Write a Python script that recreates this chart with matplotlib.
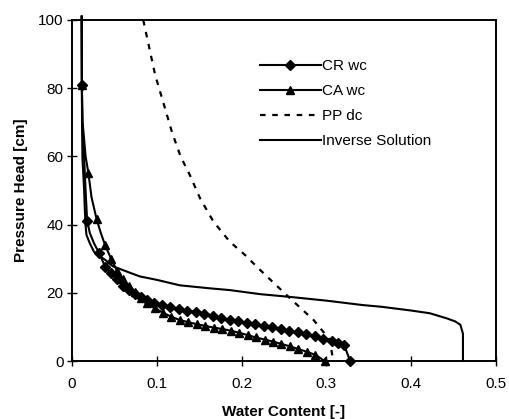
"""Water retention curves: pressure head vs water content."""
import matplotlib.pyplot as plt

plt.rcParams['font.family'] = ['Liberation Sans', 'DejaVu Sans']

# CR wc (diamonds)
cr_theta = [0.0114, 0.0116, 0.0120, 0.0143, 0.0160, 0.0178, 0.021, 0.026,
            0.032, 0.039, 0.046, 0.053, 0.060, 0.067,
            0.074, 0.081, 0.089, 0.097, 0.106, 0.116, 0.126, 0.136, 0.146,
            0.156, 0.166, 0.176, 0.186, 0.196, 0.206, 0.216, 0.226, 0.236,
            0.246, 0.256, 0.266, 0.276, 0.286, 0.296, 0.306, 0.314, 0.321,
            0.328]
cr_head = [101.0, 81.0, 70.0, 59.4, 50.0, 41.2, 37.5, 34.5,
           31.6, 27.7, 25.8, 24.0, 22.0, 20.8,
           19.7, 18.8, 17.8, 17.0, 16.3, 15.8, 15.2, 14.8, 14.3,
           13.9, 13.3, 12.6, 12.0, 11.6, 11.2, 10.8, 10.4, 9.9,
           9.4, 8.9, 8.4, 7.8, 7.2, 6.5, 5.8, 5.2, 4.6,
           0.0]
cr_no_marker = [0, 2, 3, 4, 6, 7]

# CA wc (triangles)
ca_theta = [0.0114, 0.0116, 0.0125, 0.0160, 0.0193, 0.023, 0.0289, 0.034,
            0.039, 0.046, 0.053, 0.060, 0.067,
            0.074, 0.081, 0.089, 0.098, 0.107, 0.117, 0.127, 0.137, 0.147,
            0.157, 0.167, 0.177, 0.187, 0.197, 0.207, 0.217, 0.227, 0.237,
            0.247, 0.257, 0.267, 0.277, 0.287, 0.298]
ca_head = [101.0, 81.0, 70.0, 60.0, 55.1, 48.0, 41.7, 37.5,
           34.0, 30.0, 26.5, 24.0, 22.0,
           20.3, 18.6, 16.9, 15.4, 14.2, 13.0, 12.0, 11.4, 10.8,
           10.3, 9.8, 9.4, 8.9, 8.3, 7.6, 6.9, 6.3, 5.7,
           5.0, 4.3, 3.5, 2.7, 1.8, 0.0]
ca_no_marker = [0, 2, 3, 5, 7]

# PP dc (dashed)
pp_theta = [0.084, 0.098, 0.108, 0.118, 0.128, 0.139, 0.151, 0.1667, 0.186,
            0.204, 0.2197, 0.240, 0.257, 0.285, 0.304, 0.307]
pp_head = [100.0, 83.9, 75.5, 67.0, 60.0, 54.5, 47.7, 40.9, 35.0,
           31.1, 27.2, 22.4, 18.4, 12.0, 6.2, 1.5]

# Inverse solution
inv_theta = [0.0114, 0.0118, 0.0123, 0.0143, 0.015, 0.0158, 0.017, 0.021,
             0.026, 0.033, 0.040, 0.048, 0.067, 0.080, 0.100, 0.127, 0.163,
             0.186, 0.222, 0.257, 0.300, 0.343, 0.365, 0.400, 0.422, 0.442,
             0.452, 0.458, 0.461, 0.461]
inv_head = [101.0, 70.0, 59.4, 50.0, 45.0, 40.3, 37.0, 34.5,
            32.0, 30.7, 29.5, 27.8, 26.0, 24.8, 23.8, 22.2, 21.3,
            20.8, 19.6, 18.8, 17.7, 16.4, 15.9, 14.8, 14.0, 12.5,
            11.6, 10.6, 8.0, 0.0]

cr_marks = [i for i in range(len(cr_theta)) if i not in cr_no_marker]
ca_marks = [i for i in range(len(ca_theta)) if i not in ca_no_marker]

fig = plt.figure(figsize=(5.09, 4.19), dpi=100)
ax = fig.add_axes([0.1415, 0.1384, 0.833, 0.8139])

ax.plot(cr_theta, cr_head, color='black', lw=1.5, marker='D', ms=5.2,
        markevery=cr_marks, label='CR wc', clip_on=False)
ax.plot(ca_theta, ca_head, color='black', lw=1.5, marker='^', ms=6,
        markevery=ca_marks, label='CA wc', clip_on=False)
ax.plot(pp_theta, pp_head, color='black', lw=1.6, dashes=(2.5, 3),
        label='PP dc')
ax.plot(inv_theta, inv_head, color='black', lw=1.5, label='Inverse Solution',
        clip_on=False)

ax.set_xlim(0, 0.5)
ax.set_ylim(0, 100)
ax.set_xticks([0, 0.1, 0.2, 0.3, 0.4, 0.5])
ax.set_xticklabels(['0', '0.1', '0.2', '0.3', '0.4', '0.5'])
ax.set_yticks([0, 20, 40, 60, 80, 100])
ax.tick_params(direction='inout', length=7, width=1, labelsize=11)
ax.tick_params(axis='x', pad=8)
ax.tick_params(axis='y', pad=2.5)
for s in ax.spines.values():
    s.set_linewidth(1.4)

ax.set_xlabel('Water Content [-]', fontsize=11, fontweight='bold', labelpad=10)
ax.set_ylabel('Pressure Head [cm]', fontsize=11, fontweight='bold', labelpad=7)

ax.legend(loc='upper left', bbox_to_anchor=(0.443, 0.885), frameon=False,
          fontsize=11, handlelength=4.0, handletextpad=0.1, labelspacing=0.72,
          borderpad=0, borderaxespad=0)

fig.savefig('out.png', dpi=100)
